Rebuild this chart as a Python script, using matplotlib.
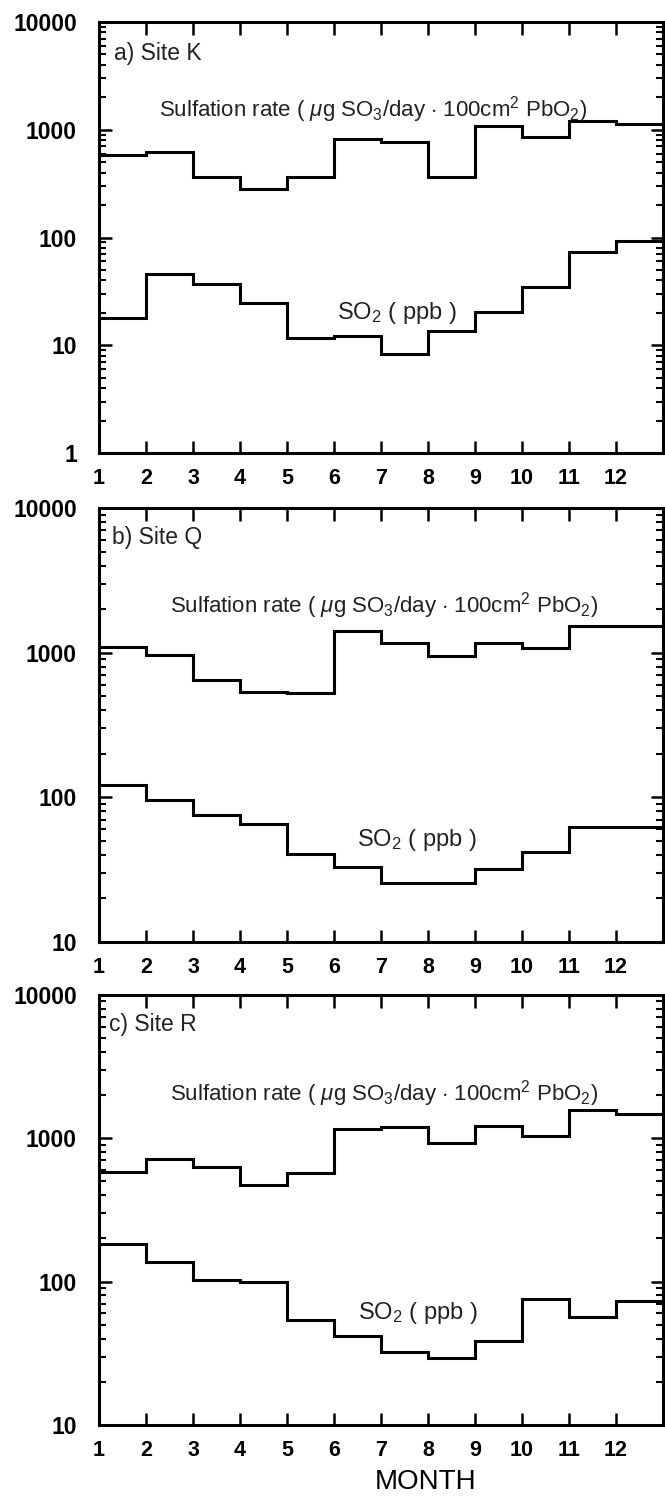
import numpy as np
import matplotlib
matplotlib.use("Agg")
import matplotlib.pyplot as plt
from matplotlib.ticker import LogLocator, FixedLocator, NullFormatter, FuncFormatter

plt.rcParams['font.family'] = ['Liberation Sans', 'DejaVu Sans']
plt.rcParams['mathtext.fontset'] = 'custom'
plt.rcParams['mathtext.rm'] = 'Liberation Sans'
plt.rcParams['mathtext.it'] = 'Liberation Sans:italic'

# Monthly values (month 1..12)
months = np.arange(1, 13)
month_labels = [str(m) for m in months]

site_k_sulfation = [578, 616, 361, 283, 361, 825, 778, 363, 1074, 849, 1213, 1129]
site_k_so2 = [18.0, 45.6, 36.9, 24.5, 11.8, 12.3, 8.3, 13.6, 20.3, 34.4, 73.0, 92.0]

site_q_sulfation = [1100, 963, 647, 537, 529, 1420, 1160, 948, 1173, 1071, 1537, 1537]
site_q_so2 = [122, 96, 76, 65, 40.6, 32.8, 25.4, 25.4, 32.0, 41.7, 62.3, 62.0]

site_r_sulfation = [583, 718, 627, 470, 570, 1161, 1200, 921, 1212, 1040, 1580, 1470]
site_r_so2 = [183, 136, 102, 100, 54, 41.7, 32.5, 29.4, 38.8, 76, 57, 73.8]

panels = [
    dict(tag="a) Site K", sul=site_k_sulfation, so2=site_k_so2, ylim=(1, 10000),
         rect=[0.1489, 0.6978, 0.848, 0.2875],
         tag_xy=(0.027, 0.928), sul_xy=(0.106, 0.796), so2_xy=(0.528, 0.325)),
    dict(tag="b) Site Q", sul=site_q_sulfation, so2=site_q_so2, ylim=(10, 10000),
         rect=[0.1489, 0.3716, 0.848, 0.2895],
         tag_xy=(0.023, 0.933), sul_xy=(0.126, 0.776), so2_xy=(0.564, 0.235)),
    dict(tag="c) Site R", sul=site_r_sulfation, so2=site_r_so2, ylim=(10, 10000),
         rect=[0.1489, 0.0494, 0.848, 0.2869],
         tag_xy=(0.018, 0.930), sul_xy=(0.126, 0.770), so2_xy=(0.566, 0.260)),
]

sulfation_text = r"Sulfation rate ( $\mu$g SO$_3$/day $\cdot$ 100cm$^2$ PbO$_2$)"
so2_text = r"SO$_2$ ( ppb )"

fig = plt.figure(figsize=(6.65, 14.99), dpi=100)
edges = np.append(months, months[-1] + 1)

for p in panels:
    ax = fig.add_axes(p["rect"])
    ax.stairs(p["sul"], edges, baseline=None, color="black", linewidth=2.2)
    ax.stairs(p["so2"], edges, baseline=None, color="black", linewidth=2.2)
    ax.set_yscale("log")
    ax.set_ylim(*p["ylim"])
    ax.set_xlim(edges[0], edges[-1])

    ax.xaxis.set_major_locator(FixedLocator(months))
    ax.set_xticklabels(month_labels)
    ax.yaxis.set_major_locator(LogLocator(base=10))
    ax.yaxis.set_minor_locator(LogLocator(base=10, subs=np.arange(2, 10)))
    ax.yaxis.set_minor_formatter(NullFormatter())
    ax.yaxis.set_major_formatter(FuncFormatter(lambda v, _: f"{int(round(v))}"))

    ax.tick_params(axis="x", which="major", direction="in", top=True, bottom=True,
                   length=9, width=1.8, pad=11, labelsize=15.5)
    ax.tick_params(axis="y", which="major", direction="in", left=True, right=True,
                   length=9, width=1.8, pad=16, labelsize=16.5)
    ax.tick_params(axis="y", which="minor", direction="in", left=True, right=True,
                   length=5, width=1.5)
    for lab in ax.get_xticklabels() + ax.get_yticklabels():
        lab.set_fontweight("bold")
    for s in ax.spines.values():
        s.set_linewidth(2.2)

    ax.text(*p["tag_xy"], p["tag"], transform=ax.transAxes, fontsize=16.5,
            ha="left", va="center", color="#222222")
    ax.text(*p["sul_xy"], sulfation_text, transform=ax.transAxes, fontsize=16,
            ha="left", va="center", color="#222222")
    ax.text(*p["so2_xy"], so2_text, transform=ax.transAxes, fontsize=17,
            ha="center", va="center", color="#222222")

fig.text(426 / 665, 1 - 1482 / 1499, "MONTH", ha="center", va="center", fontsize=20)

fig.savefig("out.png", dpi=100, facecolor="white")
